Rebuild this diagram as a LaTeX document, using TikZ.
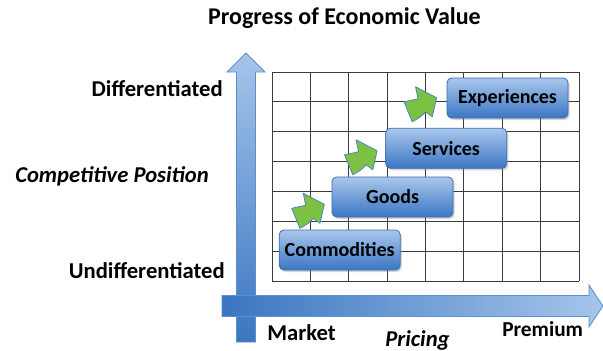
\documentclass[tikz,border=0pt]{standalone}
\usepackage{fontspec}
\setmainfont{Carlito}
\usetikzlibrary{shadows}
\definecolor{boxtop}{HTML}{A9C7EC}
\definecolor{boxbot}{HTML}{3B76C4}
\definecolor{boxedge}{HTML}{3A6DB0}
\definecolor{arrdark}{HTML}{3A76C0}
\definecolor{arrlight}{HTML}{A6C5EA}
\definecolor{arredge}{HTML}{5B8FD0}
\definecolor{grn}{HTML}{7DC142}
\definecolor{grnedge}{HTML}{4F84C4}
\definecolor{gridc}{HTML}{3C3C3C}
\begin{document}
\begin{tikzpicture}[x=0.75pt,y=-0.75pt,
  stage/.style={draw=boxedge, line width=0.6pt, rounded corners=3.5pt,
    top color=boxtop, bottom color=boxbot, minimum width=90.75pt,
    minimum height=30pt, inner sep=0pt,
    font=\fontsize{15}{18}\selectfont\bfseries, text=black,
    drop shadow={opacity=0.35, shadow xshift=1.2pt, shadow yshift=-1.5pt}},
  axislabel/.style={font=\fontsize{17}{20}\selectfont\bfseries, text=black, inner sep=0pt},
  axisitalic/.style={font=\fontsize{17}{20}\selectfont\bfseries\itshape, text=black, inner sep=0pt},
  gridline/.style={draw=gridc, line width=0.75pt},
  bigarrow/.style={draw=arredge, line width=0.6pt},
  stepgreen/.style={fill=grn, draw=grnedge, line width=0.6pt, line join=round}]
\useasboundingbox (0,0) rectangle (603,350);

% grid
\foreach \i in {0,...,8} {
  \draw[gridline] ({272+\i*38.375},72) -- ({272+\i*38.375},281);
}
\foreach \j in {0,...,7} {
  \draw[gridline] (272,{72+\j*29.857}) -- (579,{72+\j*29.857});
}

% vertical axis arrow
\path[bigarrow, bottom color=arrdark, top color=arrlight]
  (236.5,342) -- (236.5,72) -- (227,72) -- (246,53) -- (265,72) -- (255.5,72) -- (255.5,342) -- cycle;
% horizontal axis arrow
\path[bigarrow, left color=arrdark, right color=arrlight]
  (222,295.5) -- (589,295.5) -- (589,285) -- (603,306) -- (589,327) -- (589,316.5) -- (222,316.5) -- cycle;

% stage boxes
\node[stage] (commod) at (339.7,250) {Commodities};
\node[stage] (goods) at (392.5,197) {Goods};
\node[stage] (serv) at (446.2,148.3) {Services};
\node[stage] (exper) at (507.5,98) {Experiences};

% green step arrows
\foreach \ox/\oy in {291.7/208.3, 344.5/154.8, 404/101.8} {
  \draw[stepgreen, shift={(\ox,\oy)}]
    (0,0) -- (14,-3) -- (11.6,-15) -- (32.6,-4) -- (28.3,15) -- (21.6,10)
    .. controls (17,15) .. (8.3,20) -- cycle;
}

% labels
\node[axislabel, font=\fontsize{18}{21}\selectfont\bfseries, anchor=base] (title) at (344.5,24) {Progress of Economic Value};
\node[axislabel, anchor=base east] (diff) at (223,96) {Differentiated};
\node[axisitalic, anchor=base west] (comp) at (15,182) {Competitive Position};
\node[axislabel, anchor=base east] (undiff) at (225,278) {Undifferentiated};
\node[axislabel, anchor=base west] (market) at (267,340) {Market};
\node[axisitalic, anchor=base west] (pricing) at (385,346.5) {Pricing};
\node[axislabel, font=\fontsize{16}{19}\selectfont\bfseries, anchor=base west] (premium) at (502,336) {Premium};
\end{tikzpicture}
\end{document}
